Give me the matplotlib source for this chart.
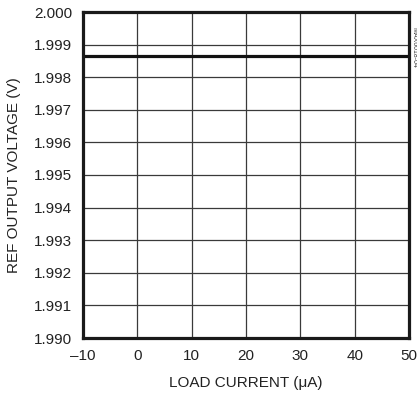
import matplotlib
matplotlib.use("Agg")
import matplotlib.pyplot as plt
from matplotlib import font_manager

names = {f.name for f in font_manager.fontManager.ttflist}
fam = ["Liberation Sans Narrow", "DejaVu Sans"] if "Liberation Sans Narrow" in names else ["Liberation Sans", "DejaVu Sans"]
plt.rcParams['font.family'] = fam

load_current = [-10, 0, 10, 20, 30, 40, 50]
ref_voltage = [1.99865, 1.99865, 1.99865, 1.99865, 1.99865, 1.99865, 1.99865]
x_ticks = [-10, 0, 10, 20, 30, 40, 50]
x_tick_labels = ["\u201310", "0", "10", "20", "30", "40", "50"]
y_ticks = [1.990, 1.991, 1.992, 1.993, 1.994, 1.995, 1.996, 1.997, 1.998, 1.999, 2.000]

fig = plt.figure(figsize=(4.17, 3.99), dpi=100)
ax = fig.add_axes([83/417, 1 - 338/399, (409 - 83)/417, (338 - 12)/399])
ax.plot(load_current, ref_voltage, color="#111111", lw=2.3, solid_capstyle="butt")
ax.set_xlim(-10, 50)
ax.set_ylim(1.990, 2.000)
ax.set_xticks(x_ticks)
ax.set_xticklabels(x_tick_labels)
ax.set_yticks(y_ticks)
ax.set_yticklabels([f"{v:.3f}" for v in y_ticks])
ax.grid(True, color="#3a3a3a", lw=0.9)
ax.set_axisbelow(True)
for s in ax.spines.values():
    s.set_linewidth(2.3)
    s.set_color("#1a1a1a")
ax.tick_params(length=0, labelsize=11, colors="#222222", pad=8)
ax.set_xlabel("LOAD CURRENT (\u03bcA)", fontsize=11, color="#222222", labelpad=9)
ax.set_ylabel("REF OUTPUT VOLTAGE (V)", fontsize=11, color="#222222", labelpad=9)
fig.text(0.992, 0.88, "MAX6018-04", rotation=270, fontsize=5, color="#444444", ha="center", va="center")
fig.savefig("out.png", dpi=100)
